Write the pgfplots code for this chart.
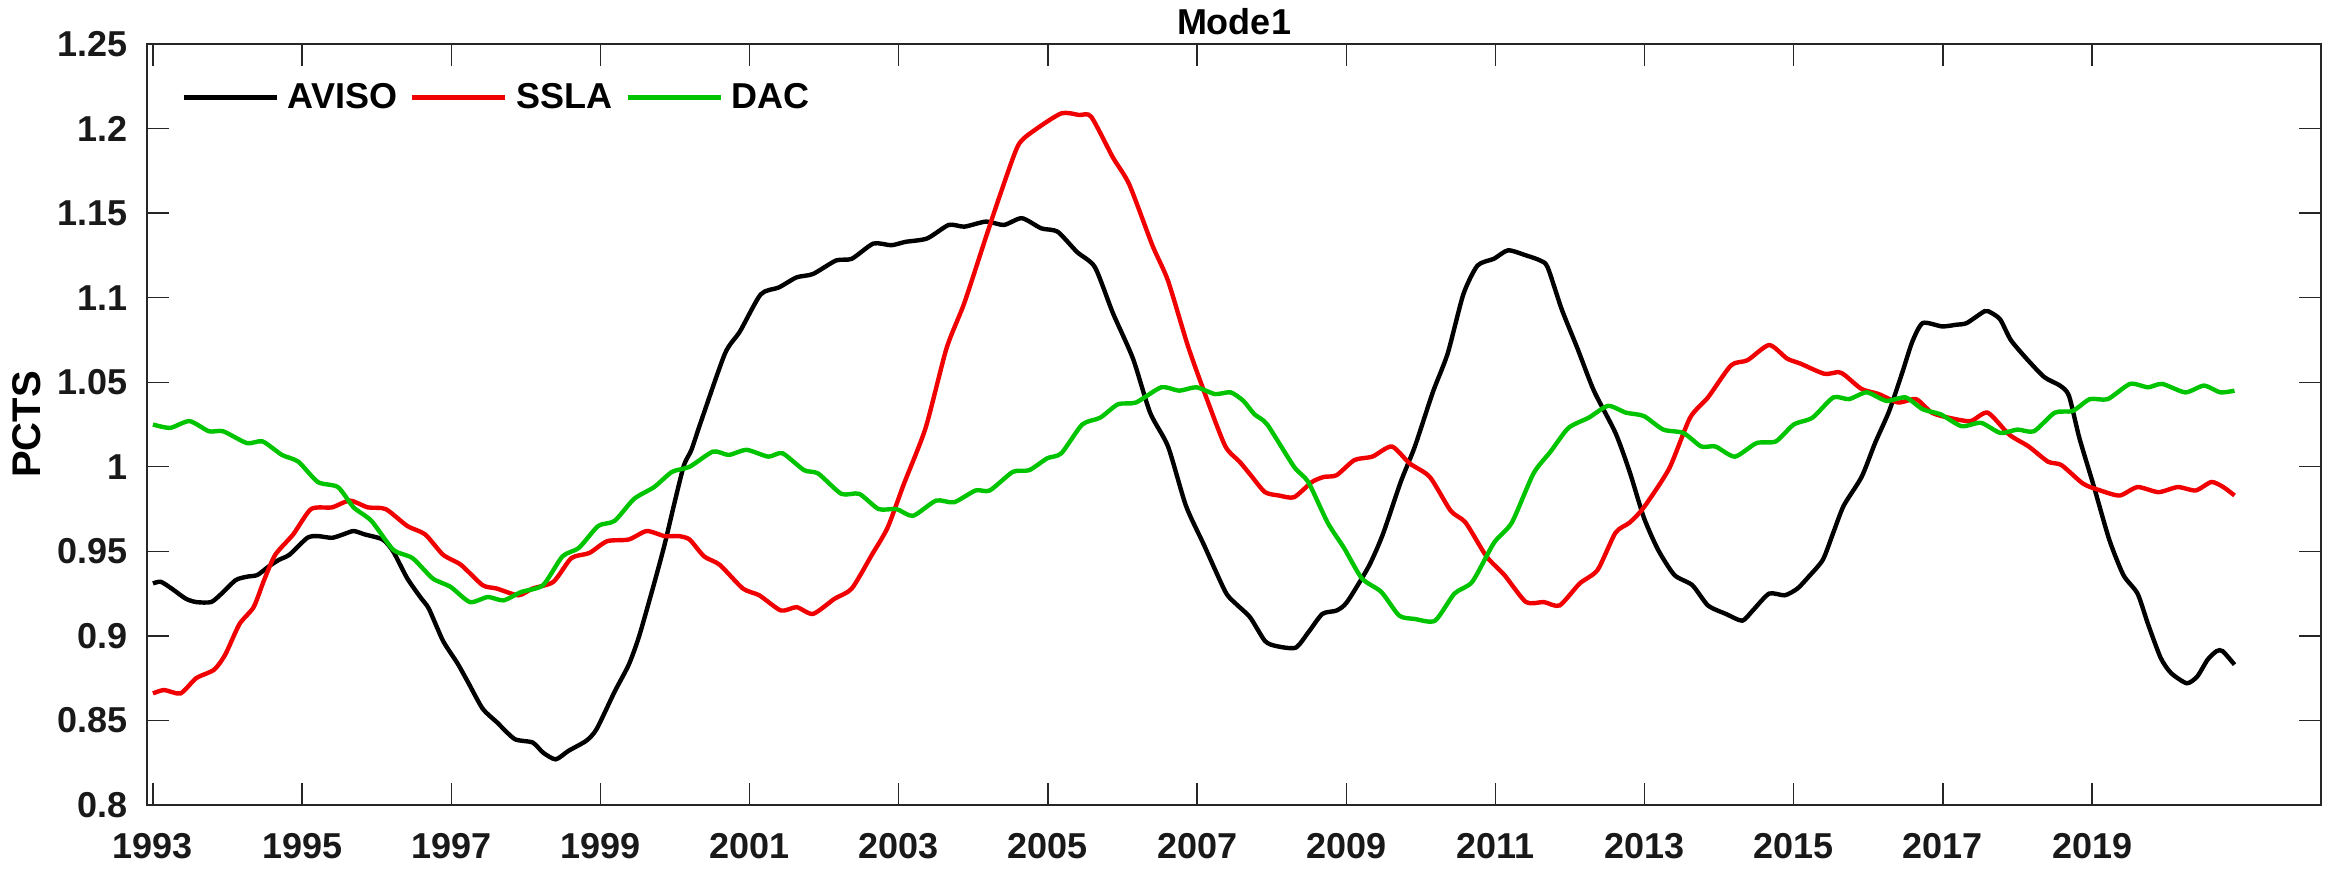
\documentclass[border=0pt]{standalone}
\usepackage{pgfplots}
\pgfplotsset{compat=1.18}
\usepackage{fontspec}
\setmainfont{Liberation Sans}
\definecolor{axgray}{RGB}{38,38,38}
\definecolor{mred}{RGB}{240,0,0}
\definecolor{mgreen}{RGB}{0,196,0}
\begin{document}
\begin{tikzpicture}
\useasboundingbox (-73.5pt,-31.5pt) rectangle (1092.5pt,402.5pt);
\begin{axis}[
  at={(0,0)}, anchor=south west,
  scale only axis, width=1087pt, height=380.5pt,
  xmin=1992.92, xmax=2022.07, ymin=0.8, ymax=1.25,
  xtick={1993,1995,...,2019},
  ytick={0.8,0.85,0.9,0.95,1,1.05,1.1,1.15,1.2,1.25},
  yticklabels={0.8,0.85,0.9,0.95,1,1.05,1.1,1.15,1.2,1.25},
  scaled x ticks=false,
  /pgf/number format/assume math mode=true,
  /pgf/number format/set thousands separator={},
  tick align=inside, tickpos=both, major tick length=11pt,
  every tick/.style={axgray, line width=0.7pt},
  axis line style={axgray, line width=0.75pt},
  tick label style={font=\fontsize{18}{20}\selectfont\bfseries, text=black!90},
  yticklabel style={inner sep=0pt, xshift=-9.5pt},
  xticklabel style={inner sep=0pt, yshift=-14pt},
  title={Mode1},
  every axis title/.style={font=\fontsize{18}{20}\selectfont\bfseries, at={(axis description cs:0.5,1)}, anchor=base, yshift=4.5pt, inner sep=0pt},
  ylabel={PCTS},
  every axis y label/.style={font=\fontsize{20}{22}\selectfont\bfseries, at={(axis description cs:-0.0552,0.5)}, rotate=90, anchor=center, inner sep=0pt},
  legend columns=-1,
  legend image code/.code={\draw[#1] (0pt,0pt) -- (46.5pt,0pt);},
  legend style={draw=none, fill=none, at={(axis description cs:0,1)}, anchor=north west,
    xshift=17pt, yshift=-19.5pt, inner sep=0pt,
    font=\fontsize{18}{20}\selectfont\bfseries,
    nodes={inner sep=0pt},
    /tikz/every odd column/.append style={column sep=4.5pt},
    /tikz/every even column/.append style={column sep=6.5pt}},
  legend cell align=left,
  every axis plot/.append style={line width=2.2pt, smooth, tension=0.4},
]
\addplot[black] table[row sep=\\] {
x y\\
1993.00 0.931\\ 1993.105 0.932\\ 1993.25 0.928\\ 1993.44 0.922\\ 1993.58 0.920\\ 1993.78 0.920\\
1993.92 0.925\\ 1994.11 0.933\\ 1994.26 0.935\\ 1994.40 0.936\\ 1994.55 0.941\\ 1994.69 0.945\\
1994.83 0.948\\ 1995.07 0.958\\ 1995.21 0.959\\ 1995.40 0.958\\ 1995.55 0.960\\ 1995.69 0.962\\
1995.84 0.960\\ 1996.08 0.957\\ 1996.22 0.950\\ 1996.41 0.934\\ 1996.60 0.922\\ 1996.70 0.916\\
1996.89 0.897\\ 1997.08 0.884\\ 1997.22 0.873\\ 1997.42 0.857\\ 1997.61 0.849\\ 1997.85 0.839\\
1998.09 0.837\\ 1998.23 0.831\\ 1998.40 0.827\\ 1998.57 0.832\\ 1998.81 0.838\\ 1998.95 0.845\\
1999.19 0.867\\ 1999.38 0.883\\ 1999.52 0.900\\ 1999.72 0.931\\ 1999.86 0.954\\ 2000.00 0.980\\
2000.12 1.001\\ 2000.22 1.010\\ 2000.35 1.027\\ 2000.67 1.067\\ 2000.87 1.080\\ 2001.15 1.102\\
2001.39 1.106\\ 2001.63 1.112\\ 2001.85 1.114\\ 2002.16 1.122\\ 2002.37 1.123\\ 2002.66 1.132\\
2002.90 1.131\\ 2003.09 1.133\\ 2003.38 1.135\\ 2003.67 1.143\\ 2003.88 1.142\\ 2004.17 1.145\\
2004.41 1.143\\ 2004.65 1.147\\ 2004.91 1.141\\ 2005.13 1.139\\ 2005.39 1.127\\ 2005.63 1.118\\
2005.87 1.091\\ 2006.14 1.064\\ 2006.37 1.032\\ 2006.61 1.012\\ 2006.85 0.977\\ 2007.09 0.954\\
2007.38 0.926\\ 2007.52 0.919\\ 2007.71 0.911\\ 2007.91 0.897\\ 2008.06 0.894\\ 2008.32 0.893\\
2008.49 0.902\\ 2008.68 0.913\\ 2008.87 0.915\\ 2009.01 0.920\\ 2009.30 0.941\\ 2009.49 0.960\\
2009.73 0.991\\ 2009.92 1.012\\ 2010.16 1.044\\ 2010.36 1.067\\ 2010.57 1.102\\ 2010.76 1.119\\
2010.98 1.123\\ 2011.17 1.128\\ 2011.41 1.125\\ 2011.60 1.122\\ 2011.70 1.118\\ 2011.89 1.093\\
2012.10 1.070\\ 2012.32 1.045\\ 2012.61 1.020\\ 2012.80 0.997\\ 2012.99 0.970\\ 2013.18 0.951\\
2013.40 0.936\\ 2013.64 0.930\\ 2013.85 0.918\\ 2014.09 0.913\\ 2014.31 0.909\\ 2014.45 0.915\\
2014.67 0.925\\ 2014.88 0.924\\ 2015.05 0.928\\ 2015.20 0.935\\ 2015.39 0.945\\ 2015.53 0.961\\
2015.67 0.977\\ 2015.91 0.994\\ 2016.09 1.014\\ 2016.28 1.033\\ 2016.45 1.055\\ 2016.59 1.074\\
2016.73 1.085\\ 2016.99 1.083\\ 2017.18 1.084\\ 2017.32 1.085\\ 2017.56 1.092\\ 2017.65 1.091\\
2017.77 1.087\\ 2017.91 1.075\\ 2018.12 1.064\\ 2018.36 1.053\\ 2018.57 1.048\\ 2018.69 1.042\\
2018.83 1.017\\ 2019.02 0.989\\ 2019.23 0.957\\ 2019.42 0.936\\ 2019.61 0.925\\ 2019.75 0.907\\
2019.92 0.887\\ 2020.06 0.878\\ 2020.27 0.872\\ 2020.41 0.876\\ 2020.55 0.886\\ 2020.67 0.891\\
2020.75 0.891\\ 2020.91 0.883\\
};
\addlegendentry{AVISO}
\addplot[mred] table[row sep=\\] {
x y\\
1993.00 0.866\\ 1993.15 0.868\\ 1993.37 0.866\\ 1993.58 0.875\\ 1993.82 0.880\\ 1993.97 0.889\\
1994.16 0.907\\ 1994.35 0.917\\ 1994.49 0.933\\ 1994.64 0.948\\ 1994.88 0.960\\ 1995.12 0.975\\
1995.40 0.976\\ 1995.64 0.980\\ 1995.88 0.976\\ 1996.12 0.975\\ 1996.41 0.965\\ 1996.65 0.960\\
1996.89 0.948\\ 1997.13 0.942\\ 1997.42 0.930\\ 1997.61 0.928\\ 1997.90 0.924\\ 1998.09 0.928\\
1998.37 0.932\\ 1998.61 0.946\\ 1998.85 0.949\\ 1999.09 0.956\\ 1999.38 0.957\\ 1999.62 0.962\\
1999.86 0.959\\ 2000.05 0.959\\ 2000.195 0.957\\ 2000.39 0.947\\ 2000.60 0.942\\ 2000.91 0.928\\
2001.13 0.924\\ 2001.42 0.915\\ 2001.63 0.917\\ 2001.85 0.913\\ 2002.14 0.922\\ 2002.37 0.928\\
2002.64 0.948\\ 2002.85 0.964\\ 2003.07 0.990\\ 2003.36 1.023\\ 2003.64 1.070\\ 2003.88 1.097\\
2004.17 1.136\\ 2004.36 1.161\\ 2004.60 1.190\\ 2004.82 1.199\\ 2005.18 1.209\\ 2005.42 1.208\\
2005.58 1.207\\ 2005.87 1.183\\ 2006.09 1.167\\ 2006.40 1.131\\ 2006.61 1.110\\ 2006.88 1.071\\
2007.14 1.039\\ 2007.38 1.012\\ 2007.57 1.003\\ 2007.72 0.995\\ 2007.91 0.985\\ 2008.10 0.983\\
2008.30 0.982\\ 2008.54 0.991\\ 2008.70 0.994\\ 2008.87 0.995\\ 2009.11 1.004\\ 2009.35 1.006\\
2009.61 1.012\\ 2009.85 1.002\\ 2010.12 0.994\\ 2010.40 0.974\\ 2010.60 0.967\\ 2010.88 0.947\\
2011.12 0.936\\ 2011.41 0.920\\ 2011.65 0.920\\ 2011.86 0.918\\ 2012.13 0.931\\ 2012.37 0.939\\
2012.61 0.961\\ 2012.80 0.967\\ 2012.99 0.976\\ 2013.33 0.999\\ 2013.61 1.029\\ 2013.85 1.041\\
2014.16 1.060\\ 2014.38 1.063\\ 2014.67 1.072\\ 2014.91 1.064\\ 2015.09 1.061\\ 2015.41 1.055\\
2015.60 1.056\\ 2015.69 1.054\\ 2015.91 1.046\\ 2016.14 1.043\\ 2016.40 1.038\\ 2016.64 1.040\\
2016.85 1.032\\ 2017.08 1.029\\ 2017.37 1.027\\ 2017.60 1.032\\ 2017.89 1.019\\ 2018.15 1.012\\
2018.41 1.003\\ 2018.59 1.001\\ 2018.88 0.990\\ 2019.11 0.986\\ 2019.37 0.983\\ 2019.61 0.988\\
2019.89 0.985\\ 2020.15 0.988\\ 2020.39 0.986\\ 2020.60 0.991\\ 2020.76 0.988\\ 2020.91 0.983\\
};
\addlegendentry{SSLA}
\addplot[mgreen] table[row sep=\\] {
x y\\
1993.00 1.025\\ 1993.23 1.023\\ 1993.49 1.027\\ 1993.75 1.021\\ 1993.94 1.021\\ 1994.26 1.014\\
1994.47 1.015\\ 1994.73 1.007\\ 1994.95 1.003\\ 1995.21 0.991\\ 1995.48 0.988\\ 1995.69 0.976\\
1995.93 0.968\\ 1996.22 0.951\\ 1996.48 0.946\\ 1996.75 0.934\\ 1996.99 0.929\\ 1997.25 0.920\\
1997.49 0.923\\ 1997.70 0.921\\ 1997.94 0.926\\ 1998.23 0.930\\ 1998.49 0.947\\ 1998.71 0.952\\
1998.97 0.965\\ 1999.19 0.968\\ 1999.45 0.981\\ 1999.72 0.988\\ 1999.96 0.997\\ 2000.195 1.000\\
2000.51 1.009\\ 2000.72 1.007\\ 2000.96 1.010\\ 2001.25 1.006\\ 2001.44 1.008\\ 2001.73 0.998\\
2001.92 0.996\\ 2002.23 0.984\\ 2002.47 0.984\\ 2002.73 0.975\\ 2002.97 0.975\\ 2003.19 0.971\\
2003.50 0.980\\ 2003.74 0.979\\ 2004.03 0.986\\ 2004.22 0.986\\ 2004.53 0.997\\ 2004.75 0.998\\
2004.99 1.005\\ 2005.18 1.008\\ 2005.46 1.025\\ 2005.70 1.029\\ 2005.94 1.037\\ 2006.18 1.038\\
2006.52 1.047\\ 2006.76 1.045\\ 2006.99 1.047\\ 2007.24 1.043\\ 2007.45 1.044\\ 2007.62 1.039\\
2007.77 1.031\\ 2007.94 1.025\\ 2008.30 1.000\\ 2008.49 0.991\\ 2008.75 0.967\\ 2008.97 0.952\\
2009.21 0.934\\ 2009.47 0.926\\ 2009.71 0.912\\ 2009.92 0.910\\ 2010.19 0.909\\ 2010.45 0.925\\
2010.69 0.932\\ 2010.98 0.955\\ 2011.22 0.967\\ 2011.51 0.996\\ 2011.74 1.009\\ 2011.98 1.023\\
2012.25 1.029\\ 2012.51 1.036\\ 2012.75 1.032\\ 2012.99 1.030\\ 2013.25 1.022\\ 2013.52 1.020\\
2013.76 1.012\\ 2013.95 1.012\\ 2014.21 1.006\\ 2014.50 1.014\\ 2014.76 1.015\\ 2015.00 1.025\\
2015.25 1.029\\ 2015.53 1.041\\ 2015.74 1.040\\ 2015.98 1.044\\ 2016.24 1.039\\ 2016.50 1.041\\
2016.73 1.034\\ 2016.97 1.031\\ 2017.25 1.024\\ 2017.51 1.026\\ 2017.77 1.020\\ 2018.00 1.022\\
2018.22 1.021\\ 2018.50 1.032\\ 2018.74 1.033\\ 2018.97 1.040\\ 2019.21 1.040\\ 2019.51 1.049\\
2019.75 1.047\\ 2019.94 1.049\\ 2020.25 1.044\\ 2020.50 1.048\\ 2020.72 1.044\\ 2020.91 1.045\\
};
\addlegendentry{DAC}
\end{axis}
\end{tikzpicture}
\end{document}
